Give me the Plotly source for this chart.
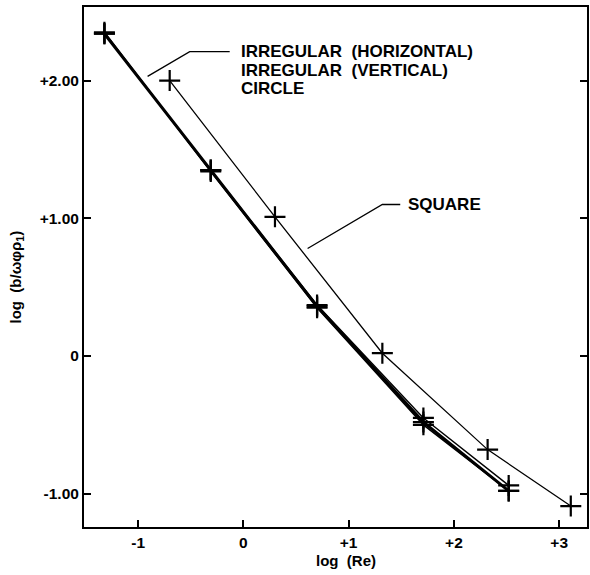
import plotly.graph_objects as go

# log(Re) values and log(b / ω φ ρ1) for each cylinder shape
re_irregular = [-1.32, -0.31, 0.70, 1.71, 2.52]
circle = [2.34, 1.35, 0.36, -0.48, -0.98]
irregular_h = [2.34, 1.35, 0.37, -0.45, -0.94]
irregular_v = [2.35, 1.34, 0.35, -0.50, -0.98]

re_square = [-0.70, 0.30, 1.32, 2.32, 3.11]
square = [2.00, 1.01, 0.02, -0.68, -1.09]

x_ticks = [-1, 0, 1, 2, 3]
x_tick_text = ["-1", "0", "+1", "+2", "+3"]
y_ticks = [-1, 0, 1, 2]
y_tick_text = ["-1.00", "0", "+1.00", "+2.00"]

FONT = "Liberation Sans, Arial, sans-serif"
marker = dict(symbol="cross-thin", size=15, color="black",
              line=dict(color="black", width=2.2))

fig = go.Figure()
fig.add_trace(go.Scatter(x=re_irregular, y=irregular_h, mode="lines+markers",
                         line=dict(color="black", width=1.4), marker=marker))
fig.add_trace(go.Scatter(x=re_irregular, y=irregular_v, mode="lines+markers",
                         line=dict(color="black", width=1.6), marker=marker))
fig.add_trace(go.Scatter(x=re_irregular, y=circle, mode="lines+markers",
                         line=dict(color="black", width=3), marker=marker))
fig.add_trace(go.Scatter(x=re_square, y=square, mode="lines+markers",
                         line=dict(color="black", width=1.3), marker=marker))

# leader lines for the curve labels
fig.add_trace(go.Scatter(x=[-0.91, -0.51, -0.13], y=[2.03, 2.21, 2.21], mode="lines",
                         line=dict(color="black", width=1.3), hoverinfo="skip"))
fig.add_trace(go.Scatter(x=[0.61, 1.32, 1.49], y=[0.78, 1.10, 1.10], mode="lines",
                         line=dict(color="black", width=1.3), hoverinfo="skip"))

label_font = dict(family=FONT, size=17, color="black", weight="bold")
for i, txt in enumerate(["IRREGULAR  (HORIZONTAL)", "IRREGULAR  (VERTICAL)", "CIRCLE"]):
    fig.add_annotation(x=-0.04, y=2.21 - i * 0.135, text=txt, showarrow=False,
                       xanchor="left", yanchor="middle", font=label_font)
fig.add_annotation(x=1.54, y=1.10, text="SQUARE", showarrow=False,
                   xanchor="left", yanchor="middle", font=label_font)

# axis titles
fig.add_annotation(x=0.52, y=-0.065, xref="paper", yref="paper", text="log  (Re)",
                   showarrow=False, xanchor="center", yanchor="middle",
                   font=dict(family=FONT, size=15, color="black", weight="bold"))
fig.add_annotation(x=-0.135, y=0.48, xref="paper", yref="paper",
                   text="log  (b/ωφρ<sub>1</sub>)", textangle=-90,
                   showarrow=False, xanchor="center", yanchor="middle",
                   font=dict(family=FONT, size=15, color="black", weight="bold"))

tick_font = dict(family=FONT, size=15.5, color="black", weight="bold")
fig.update_xaxes(range=[-1.514, 3.264], tickvals=x_ticks, ticktext=x_tick_text,
                 ticks="inside", ticklen=7, tickwidth=1.5, tickcolor="black",
                 showline=True, linecolor="black", linewidth=2, mirror=True,
                 showgrid=False, zeroline=False, tickfont=tick_font)
fig.update_yaxes(range=[-1.242, 2.534], tickvals=y_ticks, ticktext=y_tick_text,
                 ticks="inside", ticklen=7, tickwidth=1.5, tickcolor="black",
                 showline=True, linecolor="black", linewidth=2, mirror="ticks",
                 showgrid=False, zeroline=False, tickfont=tick_font)

fig.update_layout(width=590, height=575, showlegend=False,
                  margin=dict(l=84, r=1, t=7, b=48),
                  paper_bgcolor="white", plot_bgcolor="white")

fig.write_html("out.html")
